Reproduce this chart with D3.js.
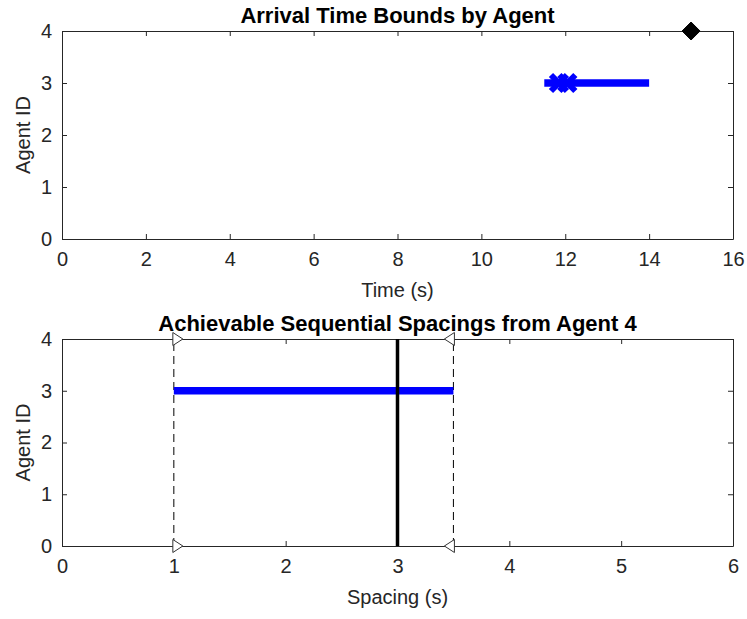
<!DOCTYPE html>
<html>
<head>
<meta charset="utf-8">
<script src="https://cdn.jsdelivr.net/npm/d3@7"></script>
<style>
  body { margin: 0; background: #fff; }
  svg { display: block; font-family: "Liberation Sans", Arial, sans-serif; }
</style>
</head>
<body>
<div id="chart"></div>
<script>
// top panel: arrival time bounds
const arrivalBounds = [{ agent: 3, lo: 11.5, hi: 14 }];
const arrivalMarks = [{ agent: 3, t: 11.85 }, { agent: 3, t: 12.05 }];
const leaderPoint = [{ agent: 4, t: 15 }];
const timeTicks = [0, 2, 4, 6, 8, 10, 12, 14, 16];

// bottom panel: achievable spacings
const spacingBounds = [{ agent: 3, lo: 1, hi: 3.5 }];
const spacingLimits = [{ s: 1, dir: "right" }, { s: 3.5, dir: "left" }];
const nominalSpacing = [3];
const spacingTicks = [0, 1, 2, 3, 4, 5, 6];
const agentTicks = [0, 1, 2, 3, 4];

const W = 747, H = 619;
const margin = { left: 62, right: 14 };
const innerW = W - margin.left - margin.right;
const axisColor = "#262626";

const svg = d3.select("#chart").append("svg")
  .attr("width", W)
  .attr("height", H);

function makePanel(top, height, xDomain, xTicks, title, xLabel) {
  const g = svg.append("g").attr("transform", `translate(${margin.left},${top})`);
  const x = d3.scaleLinear().domain(xDomain).range([0, innerW]);
  const y = d3.scaleLinear().domain([0, 4]).range([height, 0]);
  const fmt = d3.format("d");

  // box with inward ticks on all sides (matlab style)
  const bottom = g.append("g").attr("transform", `translate(0,${height})`)
    .call(d3.axisBottom(x).tickValues(xTicks).tickFormat(fmt).tickSizeInner(-5).tickSizeOuter(0).tickPadding(13));
  const topAx = g.append("g")
    .call(d3.axisTop(x).tickValues(xTicks).tickSizeInner(-5).tickSizeOuter(0).tickFormat(""));
  const left = g.append("g")
    .call(d3.axisLeft(y).tickValues(agentTicks).tickFormat(fmt).tickSizeInner(-5).tickSizeOuter(0).tickPadding(10));
  const right = g.append("g").attr("transform", `translate(${innerW},0)`)
    .call(d3.axisRight(y).tickValues(agentTicks).tickSizeInner(-5).tickSizeOuter(0).tickFormat(""));

  [bottom, topAx, left, right].forEach(a => {
    a.select(".domain").attr("stroke", axisColor).attr("stroke-width", 1);
    a.selectAll(".tick line").attr("stroke", axisColor);
    a.selectAll(".tick text").attr("fill", axisColor).attr("font-size", "20px")
      .attr("font-family", "Liberation Sans, Arial, sans-serif");
  });

  g.append("text")
    .attr("x", innerW / 2).attr("y", -8)
    .attr("text-anchor", "middle")
    .attr("font-size", "22px").attr("font-weight", "bold").attr("fill", "#000")
    .text(title);

  g.append("text")
    .attr("x", innerW / 2).attr("y", height + 58)
    .attr("text-anchor", "middle")
    .attr("font-size", "20px").attr("fill", axisColor)
    .text(xLabel);

  g.append("text")
    .attr("transform", `translate(-32,${height / 2}) rotate(-90)`)
    .attr("text-anchor", "middle")
    .attr("font-size", "20px").attr("fill", axisColor)
    .text("Agent ID");

  return { g, x, y };
}

// ---- top panel
const p1 = makePanel(31, 208, [0, 16], timeTicks, "Arrival Time Bounds by Agent", "Time (s)");

p1.g.selectAll("line.bound")
  .data(arrivalBounds)
  .join("line")
  .attr("class", "bound")
  .attr("x1", d => p1.x(d.lo)).attr("x2", d => p1.x(d.hi))
  .attr("y1", d => p1.y(d.agent)).attr("y2", d => p1.y(d.agent))
  .attr("stroke", "#0000ff").attr("stroke-width", 7.5);

p1.g.selectAll("path.xmark")
  .data(arrivalMarks)
  .join("path")
  .attr("class", "xmark")
  .attr("transform", d => `translate(${p1.x(d.t)},${p1.y(d.agent)})`)
  .attr("d", "M-8,-8L8,8M-8,8L8,-8")
  .attr("stroke", "#0000ff").attr("stroke-width", 6).attr("fill", "none");

p1.g.selectAll("path.leader")
  .data(leaderPoint)
  .join("path")
  .attr("class", "leader")
  .attr("transform", d => `translate(${p1.x(d.t)},${p1.y(d.agent)})`)
  .attr("d", "M0,-9L9,0L0,9L-9,0Z")
  .attr("fill", "#000").attr("stroke", "#000").attr("stroke-width", 1);

// ---- bottom panel
const p2 = makePanel(339, 207, [0, 6], spacingTicks, "Achievable Sequential Spacings from Agent 4", "Spacing (s)");

p2.g.selectAll("line.limit")
  .data(spacingLimits)
  .join("line")
  .attr("class", "limit")
  .attr("x1", d => p2.x(d.s)).attr("x2", d => p2.x(d.s))
  .attr("y1", p2.y(0)).attr("y2", p2.y(4))
  .attr("stroke", "#000").attr("stroke-width", 1)
  .attr("stroke-dasharray", "8,5");

p2.g.selectAll("line.bound")
  .data(spacingBounds)
  .join("line")
  .attr("class", "bound")
  .attr("x1", d => p2.x(d.lo)).attr("x2", d => p2.x(d.hi))
  .attr("y1", d => p2.y(d.agent)).attr("y2", d => p2.y(d.agent))
  .attr("stroke", "#0000ff").attr("stroke-width", 7.5);

p2.g.selectAll("line.nominal")
  .data(nominalSpacing)
  .join("line")
  .attr("class", "nominal")
  .attr("x1", d => p2.x(d)).attr("x2", d => p2.x(d))
  .attr("y1", p2.y(0)).attr("y2", p2.y(4))
  .attr("stroke", "#000").attr("stroke-width", 3.5);

// triangles at both ends of each limit line
const triData = [];
spacingLimits.forEach(d => { [0, 4].forEach(a => triData.push({ s: d.s, dir: d.dir, agent: a })); });
p2.g.selectAll("path.tri")
  .data(triData)
  .join("path")
  .attr("class", "tri")
  .attr("transform", d => `translate(${p2.x(d.s)},${p2.y(d.agent)})`)
  .attr("d", d => d.dir === "right" ? "M-1,-6.5L9,0L-1,6.5Z" : "M1,-6.5L-9,0L1,6.5Z")
  .attr("fill", "#fff").attr("stroke", "#333").attr("stroke-width", 1);
</script>
</body>
</html>
